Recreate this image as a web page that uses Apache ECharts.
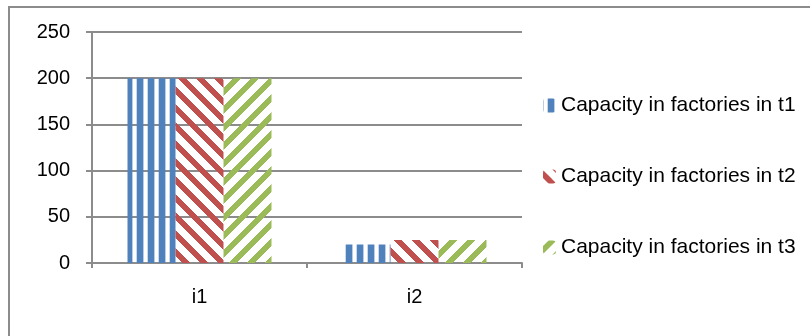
<!DOCTYPE html>
<html>
<head>
<meta charset="utf-8">
<script src="https://cdn.jsdelivr.net/npm/echarts@6/dist/echarts.min.js"></script>
<style>
  html, body { margin: 0; padding: 0; background: #fff; }
  #chart { width: 810px; height: 336px; }
</style>
</head>
<body>
<div id="chart"></div>
<script>
// data
var categories = ['i1', 'i2'];
var seriesNames = ['Capacity in factories in t1', 'Capacity in factories in t2', 'Capacity in factories in t3'];
var t1Values = [200, 20];
var t2Values = [200, 25];
var t3Values = [200, 25];
var yTicks = [0, 50, 100, 150, 200, 250];

// Excel-like fill patterns
function stripePattern(color) {
  var c = document.createElement('canvas');
  c.width = 11; c.height = 11;
  var ctx = c.getContext('2d');
  ctx.fillStyle = color;
  ctx.fillRect(4.7, 0, 6.3, 11);
  ctx.fillRect(0, 0, 0.4, 11);
  return c;
}
function diagPattern(color, dir, offset) {
  var size = 18;
  var c = document.createElement('canvas');
  c.width = size; c.height = size;
  var ctx = c.getContext('2d');
  ctx.fillStyle = color;
  for (var x = 0; x < size; x++) {
    for (var y = 0; y < size; y++) {
      var v = dir > 0 ? x + y : x - y;
      var d = ((v - offset) % size + size) % size;
      if (d < 8) ctx.fillRect(x, y, 1, 1);
    }
  }
  return c;
}

var fills = [
  { image: stripePattern('#4F81BD'), repeat: 'repeat' },
  { image: diagPattern('#C0504D', -1, 10), repeat: 'repeat' },
  { image: diagPattern('#9BBB59', 1, 5), repeat: 'repeat' }
];
var values = [t1Values, t2Values, t3Values];

var chartDom = document.getElementById('chart');
var myChart = echarts.init(chartDom);
var gridColor = '#8C8C8C';
var font = 'Liberation Sans, Arial, sans-serif';

var option = {
  animation: false,
  graphic: [{
    type: 'rect',
    silent: true,
    shape: { x: 9, y: 7, width: 1000, height: 1000 },
    style: { fill: 'none', stroke: '#8C8C8C', lineWidth: 2 }
  }],
  grid: { left: 92, right: 288, top: 32, bottom: 73 },
  legend: {
    orient: 'vertical',
    left: 538,
    top: 90,
    itemWidth: 13,
    itemHeight: 14,
    itemGap: 50,
    data: seriesNames,
    textStyle: { fontFamily: font, fontSize: 21, lineHeight: 21, color: '#000' }
  },
  xAxis: {
    type: 'category',
    data: categories,
    axisLine: { lineStyle: { color: gridColor, width: 2 } },
    axisTick: { show: true, length: 5, interval: 0, lineStyle: { color: gridColor, width: 2 } },
    axisLabel: { fontFamily: font, fontSize: 20, color: '#000', margin: 24 }
  },
  yAxis: {
    type: 'value',
    min: yTicks[0],
    max: yTicks[yTicks.length - 1],
    interval: yTicks[1] - yTicks[0],
    axisLine: { show: true, lineStyle: { color: gridColor, width: 2 } },
    axisTick: { show: true, length: 6, lineStyle: { color: gridColor, width: 2 } },
    splitLine: { lineStyle: { color: gridColor, width: 2 } },
    axisLabel: { fontFamily: font, fontSize: 20, color: '#000', margin: 22 }
  },
  series: seriesNames.map(function (name, i) {
    return {
      name: name,
      type: 'bar',
      barWidth: 48,
      barGap: 0,
      data: values[i],
      itemStyle: { color: fills[i] }
    };
  })
};

myChart.setOption(option);
</script>
</body>
</html>
